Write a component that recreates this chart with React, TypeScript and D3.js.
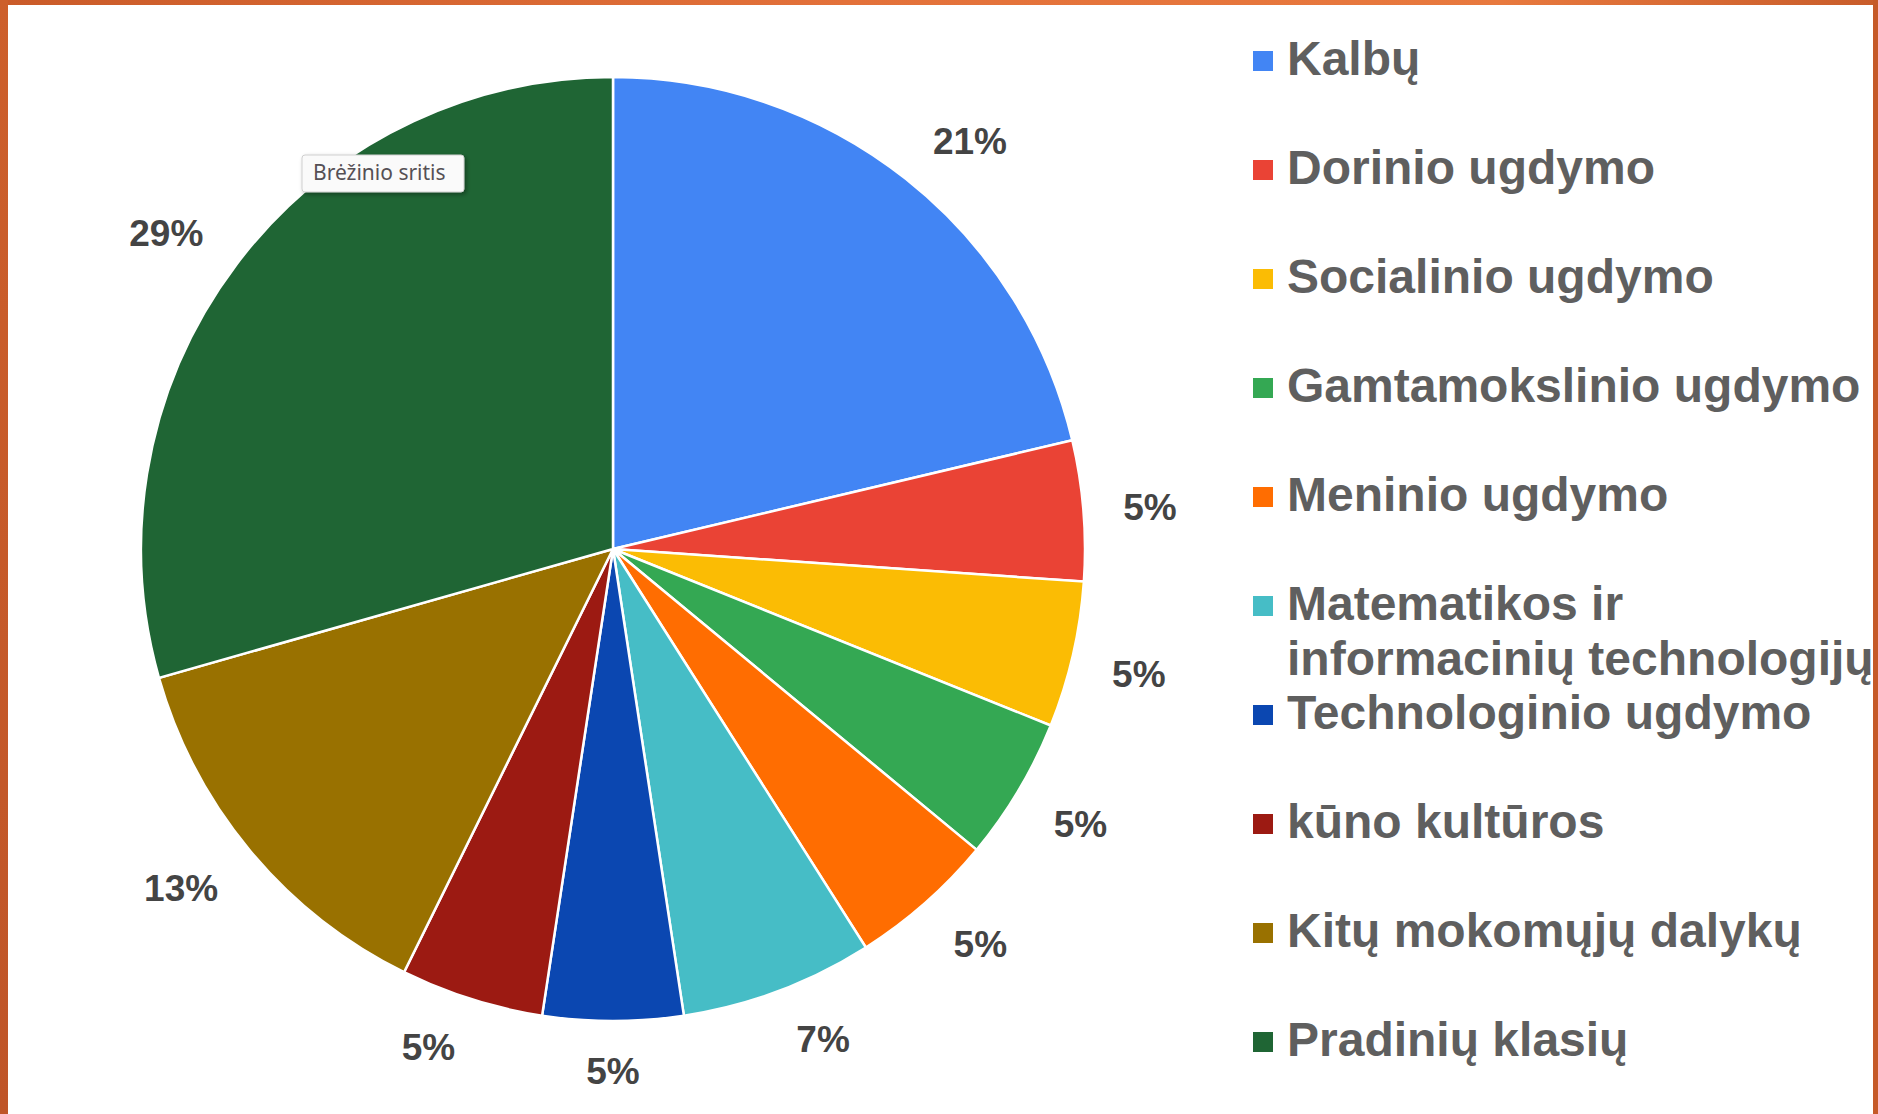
import React from "react";
import * as d3 from "d3";

const categories = [
  "Kalbų",
  "Dorinio ugdymo",
  "Socialinio ugdymo",
  "Gamtamokslinio ugdymo",
  "Meninio ugdymo",
  "Matematikos ir informacinių technologijų",
  "Technologinio ugdymo",
  "kūno kultūros",
  "Kitų mokomųjų dalykų",
  "Pradinių klasių",
];
const legendLines = [
  ["Kalbų"],
  ["Dorinio ugdymo"],
  ["Socialinio ugdymo"],
  ["Gamtamokslinio ugdymo"],
  ["Meninio ugdymo"],
  ["Matematikos ir", "informacinių technologijų"],
  ["Technologinio ugdymo"],
  ["kūno kultūros"],
  ["Kitų mokomųjų dalykų"],
  ["Pradinių klasių"],
];
const values = [21.3, 4.8, 5.0, 4.9, 5.0, 6.6, 4.8, 4.9, 13.3, 29.4];
const colors = [
  "#4285F4",
  "#EA4335",
  "#FBBC04",
  "#34A853",
  "#FF6D01",
  "#46BDC6",
  "#0B47B1",
  "#9C1A12",
  "#997100",
  "#1F6534",
];

const W = 1878;
const H = 1114;
const CX = 613;
const CY = 549;
const R = 472;
const LABEL_R = 506;
const LABEL_FS = 37;
const LEGEND_FS = 48;

function measure(text: string, font: string): number {
  const c = document.createElement("canvas");
  const ctx = c.getContext("2d");
  if (!ctx) return text.length * 20;
  ctx.font = font;
  return ctx.measureText(text).width;
}

export default function App() {
  const total = d3.sum(values);
  const pie = d3
    .pie<number>()
    .sort(null)
    .value((d) => d)
    .startAngle(0)
    .endAngle(2 * Math.PI);
  const arcs = pie(values);
  const arc = d3.arc<d3.PieArcDatum<number>>().innerRadius(0).outerRadius(R);

  const labelFont = `bold ${LABEL_FS}px 'Liberation Sans', Arial, sans-serif`;
  const capH = LABEL_FS * 0.72;

  return (
    <svg width={W} height={H} style={{ display: "block" }} fontFamily="'Liberation Sans', Arial, sans-serif">
      <style>{`body{margin:0;}`}</style>
      <defs>
        <linearGradient id="topbar" x1="0" x2="1" y1="0" y2="0">
          <stop offset="0" stopColor="#CA5B29" />
          <stop offset="0.45" stopColor="#E3713A" />
          <stop offset="0.8" stopColor="#E8793E" />
          <stop offset="1" stopColor="#C85C2A" />
        </linearGradient>
        <linearGradient id="leftbar" x1="0" x2="0" y1="0" y2="1">
          <stop offset="0" stopColor="#CD5F2B" />
          <stop offset="1" stopColor="#BF5528" />
        </linearGradient>
        <filter id="shadow" x="-10%" y="-20%" width="130%" height="160%">
          <feDropShadow dx="2" dy="2" stdDeviation="2" floodColor="#000" floodOpacity="0.35" />
        </filter>
      </defs>
      <rect x={0} y={0} width={W} height={H} fill="#ffffff" />
      <g transform={`translate(${CX},${CY})`}>
        {arcs.map((a, i) => (
          <path key={i} d={arc(a) || ""} fill={colors[i]} stroke="#ffffff" strokeWidth={2.5} />
        ))}
        {arcs.map((a, i) => {
          const mid = (a.startAngle + a.endAngle) / 2;
          const dx = Math.sin(mid);
          const dy = -Math.cos(mid);
          const txt = `${Math.round((a.value / total) * 100)}%`;
          const w = measure(txt, labelFont);
          const sx = Math.max(-1, Math.min(1, dx * 4));
          const sy = Math.max(-1, Math.min(1, dy * 3));
          const x = LABEL_R * dx + sx * (w / 2 + 6);
          const y = LABEL_R * dy + (sy * capH) / 2 + 2;
          return (
            <text
              key={"l" + i}
              x={x}
              y={y + capH / 2}
              textAnchor="middle"
              fontSize={LABEL_FS}
              fontWeight="bold"
              fill="#444444"
            >
              {txt}
            </text>
          );
        })}
      </g>
      {/* tooltip */}
      <g filter="url(#shadow)">
        <rect x={302} y={155} width={162} height={37} rx={3} fill="#fafafa" stroke="#cfcfcf" strokeWidth={1} />
      </g>
      <text x={313} y={180} fontSize={21} fill="#555055" fontFamily="'Noto Sans', 'Open Sans', sans-serif">
        Brėžinio sritis
      </text>
      {/* legend */}
      <g>
        {categories.map((c, i) => {
          const base = 75 + 109 * i;
          return (
            <g key={c}>
              <rect x={1253} y={base - 24} width={20} height={20} fill={colors[i]} />
              {legendLines[i].map((ln, j) => (
                <text
                  key={j}
                  x={1287}
                  y={base + j * 55}
                  fontSize={LEGEND_FS}
                  fontWeight="bold"
                  fill="#5f5f5f"
                >
                  {ln}
                </text>
              ))}
            </g>
          );
        })}
      </g>
      {/* frame */}
      <rect x={0} y={0} width={W} height={5} fill="url(#topbar)" />
      <rect x={0} y={0} width={8} height={H} fill="url(#leftbar)" />
      <rect x={1873} y={0} width={5} height={H} fill="#C55A29" />
    </svg>
  );
}
